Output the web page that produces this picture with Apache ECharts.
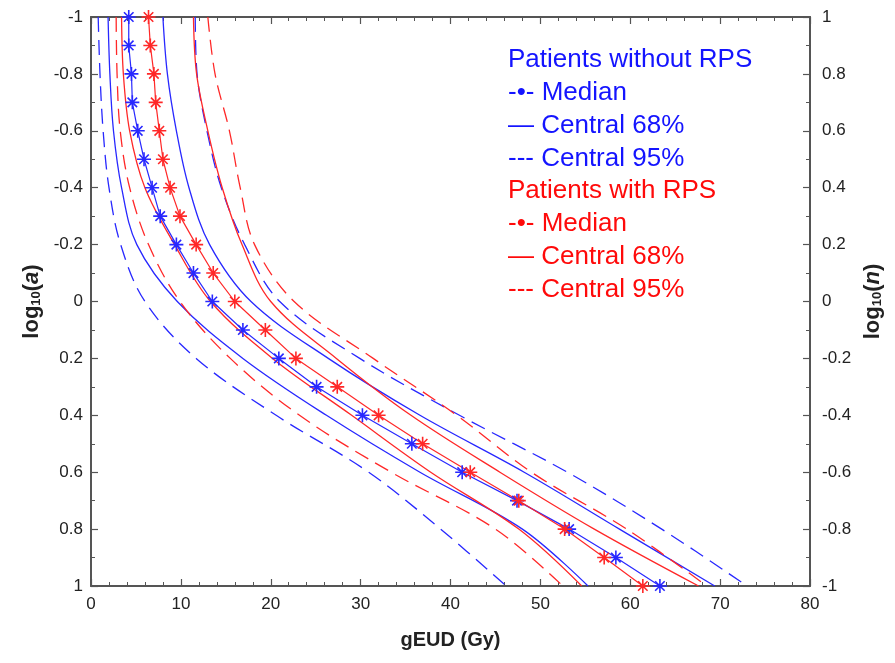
<!DOCTYPE html>
<html><head><meta charset="utf-8">
<script src="https://cdn.jsdelivr.net/npm/echarts@6/dist/echarts.min.js"></script>
<style>html,body{margin:0;padding:0;background:#fff}#c{width:895px;height:663px}</style>
</head><body><div id="c"></div>
<script>
// ---- data (gEUD in Gy at given log10(a) levels) ----
const yMedian = [-1,-0.9,-0.8,-0.7,-0.6,-0.5,-0.4,-0.3,-0.2,-0.1,0,0.1,0.2,0.3,0.4,0.5,0.6,0.7,0.8,0.9,1];
const blueMedian = [4.2,4.2,4.5,4.6,5.2,5.9,6.8,7.7,9.5,11.4,13.5,16.9,20.9,25.1,30.2,35.7,41.3,47.4,53.2,58.4,63.3];
const redMedian  = [6.4,6.6,7.0,7.2,7.6,8.0,8.8,9.9,11.7,13.6,16.0,19.4,22.8,27.4,32.0,36.9,42.2,47.6,52.7,57.1,61.4];

const yBand = [-1,-0.8,-0.6,-0.4,-0.2,0,0.2,0.4,0.6,0.8,1];
const blueLow95  = [0.8,1.0,1.35,2.0,3.3,6.0,11.7,20.6,30.9,38.9,46.2];
const blueLow68  = [1.9,2.1,2.5,3.4,5.1,9.6,16.9,26.2,36.6,48.0,55.3];
const blueHigh68 = [8.0,8.5,9.5,10.9,13.2,17.8,26.4,36.6,48.2,58.8,69.4];
const blueHigh95 = [11.6,11.8,12.9,14.5,17.1,21.0,29.9,41.0,53.0,63.5,73.0];
const redLow95   = [2.8,2.9,3.25,4.3,6.4,9.9,15.5,23.2,33.4,45.0,52.5];
const redLow68   = [3.4,3.6,4.3,6.0,9.3,13.3,20.2,29.0,37.8,47.6,54.6];
const redHigh68  = [11.4,11.75,13.0,14.6,16.8,20.0,27.3,35.6,45.5,56.0,67.6];
const redHigh95  = [13.0,13.8,15.4,16.6,18.2,22.6,31.4,40.7,49.0,59.6,68.5];

const legendRows = [
  ['Patients without RPS','blue'],
  ['-\u2022- Median','blue'],
  ['\u2014 Central 68%','blue'],
  ['--- Central 95%','blue'],
  ['Patients with RPS','red'],
  ['-\u2022- Median','red'],
  ['\u2014 Central 68%','red'],
  ['--- Central 95%','red']
];

// ---- styling ----
const BLUE = 'rgb(40,40,255)', RED = 'rgb(255,40,40)';
const TXT = {blue:'rgb(20,20,255)', red:'rgb(255,10,10)'};
const FONT = 'Liberation Sans';
const AX = '#555';
const star = 'path://M5,0L5,10M0,5L10,5M1.6,1.6L8.4,8.4M1.6,8.4L8.4,1.6';

function pairs(xs, ys){ return xs.map((x,i)=>[x, ys[i]]); }
function band(xs, color, dashed){
  return {type:'line', data:pairs(xs,yBand), smooth:0.35, symbol:'none', silent:true,
    lineStyle:{color, width:1.3, type: dashed ? [15,8] : 'solid'}};
}
function median(xs, color){
  return {type:'line', data:pairs(xs,yMedian), symbol:star, symbolSize:14, clip:false, silent:true,
    itemStyle:{color, borderColor:color, borderWidth:1.6},
    lineStyle:{color, width:1.2}, z:3};
}
const fmt = v => String(Math.round(v*10)/10);

const tickLabel = {fontFamily:FONT, fontSize:17, color:'#222'};
const axLine = {show:true, onZero:false, lineStyle:{color:AX, width:2}};
const tick = {show:true, inside:true, length:7, lineStyle:{color:AX, width:1.2}};
const richName = letter => ({
  fontFamily:FONT, fontSize:22, fontWeight:'bold', color:'#222',
  rich:{a:{fontFamily:FONT, fontSize:22, fontWeight:'bold', color:'#222'},
        s:{fontFamily:FONT, fontSize:13, fontWeight:'bold', color:'#222', verticalAlign:'bottom'},
        i:{fontFamily:FONT, fontSize:22, fontWeight:'bold', fontStyle:'italic', color:'#222'}}
});
const option = {
  animation:false,
  backgroundColor:'#fff',
  grid:{left:91, right:85, top:17, bottom:77},
  xAxis:[
    {type:'value', min:0, max:80, interval:10, position:'bottom',
     name:'gEUD (Gy)', nameLocation:'middle', nameGap:44,
     nameTextStyle:{fontFamily:FONT, fontSize:20, fontWeight:'bold', color:'#222'},
     axisLine:axLine, axisTick:tick,
     minorTick:{show:true, splitNumber:5, length:4, lineStyle:{color:AX, width:1}},
     axisLabel:Object.assign({margin:10}, tickLabel),
     splitLine:{show:false}},
    {type:'value', min:0, max:80, interval:10, position:'top',
     axisLine:axLine, axisTick:tick,
     minorTick:{show:true, splitNumber:5, length:4, lineStyle:{color:AX, width:1}},
     axisLabel:{show:false}, splitLine:{show:false}}
  ],
  yAxis:[
    {type:'value', min:-1, max:1, interval:0.2, inverse:true, position:'left',
     name:'{a|log}{s|10}{a|(}{i|a}{a|)}', nameLocation:'middle', nameGap:47, nameRotate:90,
     nameTextStyle:richName(),
     axisLine:axLine, axisTick:tick,
     minorTick:{show:true, splitNumber:2, length:4, lineStyle:{color:AX, width:1}},
     axisLabel:Object.assign({margin:8, formatter:fmt}, tickLabel),
     splitLine:{show:false}},
    {type:'value', min:-1, max:1, interval:0.2, position:'right',
     name:'{a|log}{s|10}{a|(}{i|n}{a|)}', nameLocation:'middle', nameGap:50, nameRotate:90,
     nameTextStyle:richName(),
     axisLine:axLine, axisTick:tick,
     minorTick:{show:true, splitNumber:2, length:4, lineStyle:{color:AX, width:1}},
     axisLabel:Object.assign({margin:12, formatter:fmt}, tickLabel),
     splitLine:{show:false}}
  ],
  series:[
    band(blueLow95, BLUE, true),
    band(blueHigh95, BLUE, true),
    band(blueLow68, BLUE, false),
    band(blueHigh68, BLUE, false),
    median(blueMedian, BLUE),
    band(redLow95, RED, true),
    band(redHigh95, RED, true),
    band(redLow68, RED, false),
    band(redHigh68, RED, false),
    median(redMedian, RED)
  ],
  graphic: legendRows.map((r,i)=>({
    type:'text', x:508, y:60 + i*32.8, silent:true,
    style:{text:r[0], fill:TXT[r[1]], fontFamily:FONT, fontSize:26, verticalAlign:'middle'}
  }))
};
const chart = echarts.init(document.getElementById('c'), null, {renderer:'canvas'});
chart.setOption(option);
</script></body></html>
